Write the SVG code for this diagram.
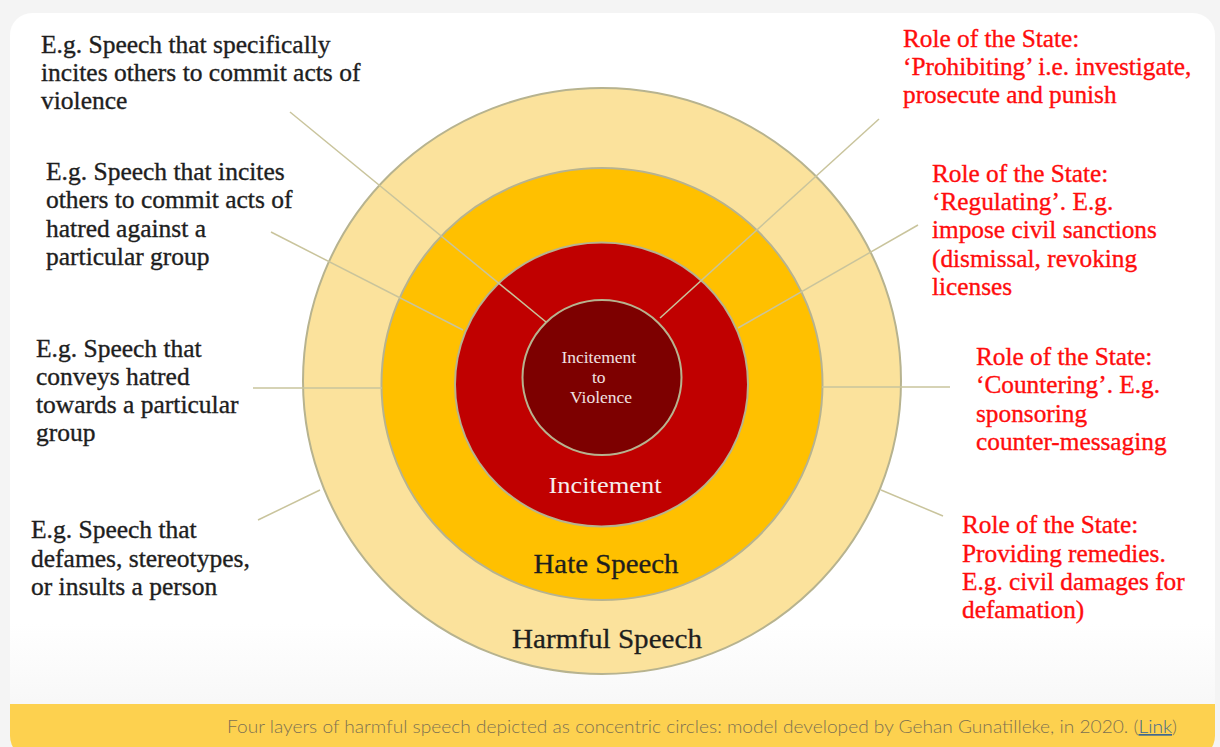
<svg xmlns="http://www.w3.org/2000/svg" width="1220" height="747" viewBox="0 0 1220 747">
  <defs>
    <style>
      .lbl { font-family: "Liberation Serif", "Times New Roman", serif; font-size: 25.5px; fill: #1e1e1e; stroke: #1e1e1e; stroke-width: 0.35px; }
      .role { font-family: "Liberation Serif", "Times New Roman", serif; font-size: 25.3px; fill: #ff0d0d; stroke: #ff0d0d; stroke-width: 0.35px; }
      .ring { stroke: #b7b38f; stroke-width: 2; }
      .conn { stroke: #c9c49c; stroke-width: 1.5; fill: none; }
      .ctitle { font-family: "Liberation Serif", "Times New Roman", serif; text-anchor: middle; }
      .cap { font-family: "Lato", "Open Sans", sans-serif; font-size: 17px; fill: #7d7152; font-weight: 300; }
    </style>
    <linearGradient id="cardGrad" x1="0" y1="0" x2="0" y2="1">
      <stop offset="0" stop-color="#ffffff"/>
      <stop offset="0.82" stop-color="#ffffff"/>
      <stop offset="1" stop-color="#f3f3f3"/>
    </linearGradient>
    <clipPath id="cardClip">
      <rect x="10" y="13" width="1205" height="745" rx="22" ry="22"/>
    </clipPath>
  </defs>

  <!-- page background -->
  <rect x="0" y="0" width="1220" height="747" fill="#f4f4f4"/>
  <!-- card -->
  <g id="card" clip-path="url(#cardClip)">
    <rect x="10" y="13" width="1205" height="745" fill="url(#cardGrad)"/>
    <rect x="10" y="704" width="1205" height="54" fill="#fdd14f"/>
  </g>

  <!-- circles -->
  <g id="harmful-speech">
    <ellipse class="ring" cx="602" cy="381" rx="299" ry="293" fill="#fbe29c"/>
  </g>
  <g id="hate-speech">
    <ellipse class="ring" cx="602" cy="384" rx="220.5" ry="216" fill="#ffc000"/>
  </g>
  <g id="incitement">
    <ellipse class="ring" cx="601.5" cy="384.5" rx="146.5" ry="142" fill="#c00000"/>
  </g>
  <g id="incitement-to-violence">
    <ellipse class="ring" cx="602" cy="377.5" rx="79.5" ry="77.5" fill="#7d0000"/>
  </g>

  <!-- connectors -->
  <g id="connectors">
    <line class="conn" x1="290" y1="112" x2="546" y2="322"/>
    <line class="conn" x1="271" y1="232" x2="463" y2="330"/>
    <line class="conn" x1="253" y1="388" x2="382" y2="388"/>
    <line class="conn" x1="258" y1="520" x2="320" y2="490"/>
    <line class="conn" x1="879" y1="119" x2="660" y2="318"/>
    <line class="conn" x1="918" y1="225" x2="738" y2="328"/>
    <line class="conn" x1="822" y1="387" x2="950" y2="387"/>
    <line class="conn" x1="881" y1="490" x2="943" y2="516"/>
  </g>

  <!-- circle titles -->
  <g id="titles">
    <text class="ctitle" x="607" y="648" font-size="28" fill="#1e1e1e" stroke="#1e1e1e" stroke-width="0.3" textLength="190" lengthAdjust="spacingAndGlyphs">Harmful Speech</text>
    <text class="ctitle" x="606" y="573" font-size="28" fill="#1e1e1e" stroke="#1e1e1e" stroke-width="0.3" textLength="145" lengthAdjust="spacingAndGlyphs">Hate Speech</text>
    <text class="ctitle" x="605" y="493" font-size="24" fill="#f6ecec" textLength="113" lengthAdjust="spacingAndGlyphs">Incitement</text>
    <text class="ctitle" font-size="17.5" fill="#f0e2e2">
      <tspan x="601" y="363">Incitement</tspan>
      <tspan x="601" y="383">to</tspan>
      <tspan x="601" y="403">Violence</tspan>
    </text>
  </g>

  <!-- left examples -->
  <g id="ex-violence">
    <text class="lbl">
      <tspan x="41" y="53">E.g. Speech that specifically</tspan>
      <tspan x="41" y="81">incites others to commit acts of</tspan>
      <tspan x="41" y="109">violence</tspan>
    </text>
  </g>
  <g id="ex-incitement">
    <text class="lbl">
      <tspan x="46" y="180">E.g. Speech that incites</tspan>
      <tspan x="46" y="208">others to commit acts of</tspan>
      <tspan x="46" y="237">hatred against a</tspan>
      <tspan x="46" y="265">particular group</tspan>
    </text>
  </g>
  <g id="ex-hate">
    <text class="lbl">
      <tspan x="36" y="357">E.g. Speech that</tspan>
      <tspan x="36" y="385">conveys hatred</tspan>
      <tspan x="36" y="413">towards a particular</tspan>
      <tspan x="36" y="441">group</tspan>
    </text>
  </g>
  <g id="ex-harmful">
    <text class="lbl">
      <tspan x="31" y="538">E.g. Speech that</tspan>
      <tspan x="31" y="567">defames, stereotypes,</tspan>
      <tspan x="31" y="595">or insults a person</tspan>
    </text>
  </g>

  <!-- right roles -->
  <g id="role-prohibiting">
    <text class="role">
      <tspan x="903" y="47">Role of the State:</tspan>
      <tspan x="903" y="75">‘Prohibiting’ i.e. investigate,</tspan>
      <tspan x="903" y="103">prosecute and punish</tspan>
    </text>
  </g>
  <g id="role-regulating">
    <text class="role">
      <tspan x="932" y="182">Role of the State:</tspan>
      <tspan x="932" y="210">‘Regulating’. E.g.</tspan>
      <tspan x="932" y="238">impose civil sanctions</tspan>
      <tspan x="932" y="267">(dismissal, revoking</tspan>
      <tspan x="932" y="295">licenses</tspan>
    </text>
  </g>
  <g id="role-countering">
    <text class="role">
      <tspan x="976" y="365">Role of the State:</tspan>
      <tspan x="976" y="393">‘Countering’. E.g.</tspan>
      <tspan x="976" y="422">sponsoring</tspan>
      <tspan x="976" y="450">counter-messaging</tspan>
    </text>
  </g>
  <g id="role-remedies">
    <text class="role">
      <tspan x="962" y="533">Role of the State:</tspan>
      <tspan x="962" y="562">Providing remedies.</tspan>
      <tspan x="962" y="590">E.g. civil damages for</tspan>
      <tspan x="962" y="618">defamation)</tspan>
    </text>
  </g>

  <!-- caption -->
  <g id="caption">
    <text class="cap" x="227" y="733" textLength="950" lengthAdjust="spacingAndGlyphs">Four layers of harmful speech depicted as concentric circles: model developed by Gehan Gunatilleke, in 2020. (<tspan fill="#3f6890" text-decoration="underline">Link</tspan>)</text>
  </g>
</svg>
